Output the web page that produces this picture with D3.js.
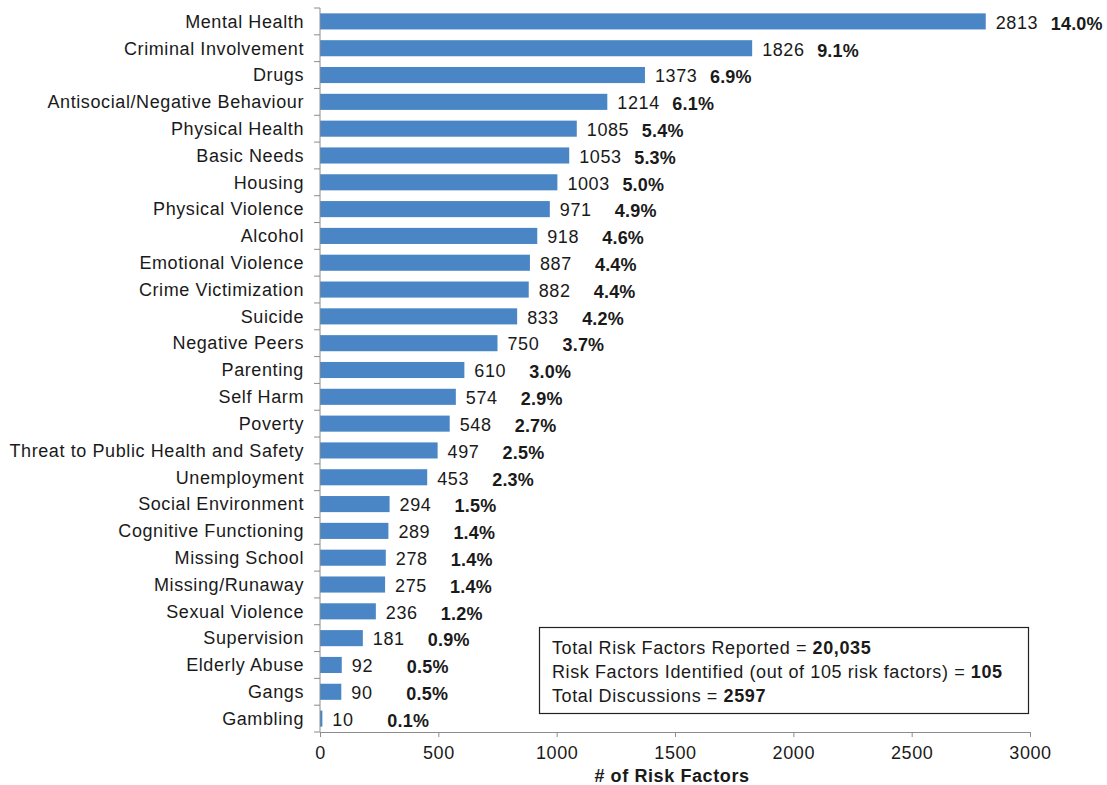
<html>
<head>
    <style>
        body { margin: 0; background: #fff; }
        text { font-family: "Liberation Sans", Arial, sans-serif; fill: #1a1a1a; letter-spacing: 0.6px; }
        .domain, .tick line { stroke: #8c8c8c; }
        .pct { letter-spacing: 0.2px; }
    </style>
</head>
<body>
    <script src="https://d3js.org/d3.v7.min.js"></script>
    <script>
        var categories = ["Mental Health", "Criminal Involvement", "Drugs", "Antisocial/Negative Behaviour",
            "Physical Health", "Basic Needs", "Housing", "Physical Violence", "Alcohol", "Emotional Violence",
            "Crime Victimization", "Suicide", "Negative Peers", "Parenting", "Self Harm", "Poverty",
            "Threat to Public Health and Safety", "Unemployment", "Social Environment", "Cognitive Functioning",
            "Missing School", "Missing/Runaway", "Sexual Violence", "Supervision", "Elderly Abuse", "Gangs", "Gambling"];
        var counts = [2813, 1826, 1373, 1214, 1085, 1053, 1003, 971, 918, 887, 882, 833, 750, 610, 574, 548,
            497, 453, 294, 289, 278, 275, 236, 181, 92, 90, 10];
        var percents = ["14.0%", "9.1%", "6.9%", "6.1%", "5.4%", "5.3%", "5.0%", "4.9%", "4.6%", "4.4%",
            "4.4%", "4.2%", "3.7%", "3.0%", "2.9%", "2.7%", "2.5%", "2.3%", "1.5%", "1.4%", "1.4%", "1.4%",
            "1.2%", "0.9%", "0.5%", "0.5%", "0.1%"];
        var xTicks = [0, 500, 1000, 1500, 2000, 2500, 3000];
        var summary = [
            ["Total Risk Factors Reported = ", "20,035"],
            ["Risk Factors Identified (out of 105 risk factors) = ", "105"],
            ["Total Discussions = ", "2597"]
        ];

        var width = 1107, height = 785;
        var svg = d3.select("body").append("svg")
            .attr("width", width)
            .attr("height", height);

        var x = d3.scaleLinear().domain([0, 3000]).range([320, 1030]);
        var y = d3.scaleBand().domain(categories).range([8, 732]).paddingInner(0.4).paddingOuter(0.2);

        var data = categories.map(function (c, i) { return { name: c, count: counts[i], pct: percents[i] }; });

        // bars
        svg.append("g").selectAll("rect")
            .data(data)
            .enter().append("rect")
            .attr("x", x(0))
            .attr("y", function (d) { return y(d.name); })
            .attr("width", function (d) { return x(d.count) - x(0); })
            .attr("height", y.bandwidth())
            .attr("fill", "#4a86c5");

        // y axis: ticks at band edges
        var gy = svg.append("g");
        gy.append("line").attr("x1", 320).attr("x2", 320).attr("y1", 8).attr("y2", 732)
            .attr("stroke", "#8c8c8c");
        gy.selectAll("line.bt")
            .data(d3.range(categories.length + 1))
            .enter().append("line")
            .attr("class", "bt")
            .attr("x1", 314).attr("x2", 320)
            .attr("y1", function (i) { return 8 + i * y.step(); })
            .attr("y2", function (i) { return 8 + i * y.step(); })
            .attr("stroke", "#8c8c8c");
        gy.selectAll("text")
            .data(data)
            .enter().append("text")
            .attr("x", 304)
            .attr("y", function (d) { return y(d.name) + y.bandwidth() / 2; })
            .attr("dy", "0.35em")
            .attr("text-anchor", "end")
            .style("font-size", "18px")
            .text(function (d) { return d.name; });

        // x axis
        var gx = svg.append("g")
            .attr("transform", "translate(0,732)")
            .call(d3.axisBottom(x).tickValues(xTicks).tickFormat(d3.format("d"))
                .tickSize(5).tickSizeOuter(0).tickPadding(9));
        gx.selectAll("text").style("font-size", "18px").attr("fill", "#1a1a1a");

        svg.append("text")
            .attr("x", 672).attr("y", 782)
            .attr("text-anchor", "middle")
            .style("font-size", "18px").style("font-weight", "bold")
            .text("# of Risk Factors");

        // value labels
        svg.append("g").selectAll("text")
            .data(data)
            .enter().append("text")
            .attr("x", function (d) { return x(d.count) + 10; })
            .attr("y", function (d) { return y(d.name) + y.bandwidth() / 2 + 1; })
            .attr("dy", "0.35em")
            .style("font-size", "18px")
            .text(function (d) { return d.count; });

        svg.append("g").selectAll("text")
            .data(data)
            .enter().append("text")
            .attr("class", "pct")
            .attr("x", function (d) { return x(d.count) + 65; })
            .attr("y", function (d) { return y(d.name) + y.bandwidth() / 2 + 2; })
            .attr("dy", "0.35em")
            .style("font-size", "18px").style("font-weight", "bold")
            .text(function (d) { return d.pct; });

        // summary box
        var box = svg.append("g");
        box.append("rect")
            .attr("x", 539.5).attr("y", 627.5)
            .attr("width", 489).attr("height", 86)
            .attr("fill", "#fff").attr("stroke", "#222").attr("stroke-width", 1.2);
        summary.forEach(function (s, i) {
            var t = box.append("text")
                .attr("x", 552).attr("y", 654 + i * 24)
                .style("font-size", "18px");
            t.append("tspan").text(s[0]);
            t.append("tspan").style("font-weight", "bold").text(s[1]);
        });
    </script>
</body>
</html>
